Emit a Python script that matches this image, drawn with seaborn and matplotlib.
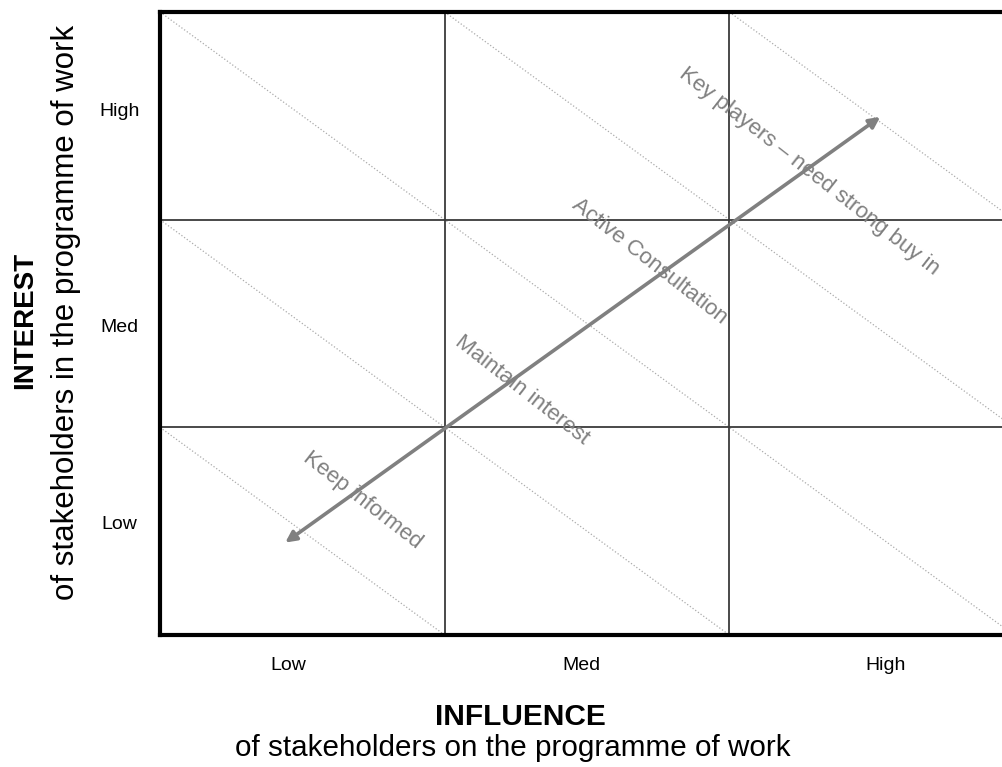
import numpy as np
import pandas as pd
import matplotlib
matplotlib.use("Agg")
import matplotlib.pyplot as plt
import seaborn as sns

# ── data ─────────────────────────────────────────
levels       = ["Low", "Med", "High"]
x_tick_pos   = [0.45, 1.48, 2.55]
y_tick_pos   = [0.54, 1.49, 2.53]
grid_breaks  = [1, 2]
diag_offsets = [1, 2, 3, 4, 5]          # dotted lines y = -x + k
zone_labels  = ["Keep informed", "Maintain interest",
                "Active Consultation", "Key players \u2013 need strong buy in"]
zone_x       = [0.71, 1.27, 1.72, 2.28]
zone_y       = [0.65, 1.18, 1.80, 2.23]
arrow_start  = (0.44, 0.445)
arrow_end    = (2.53, 2.495)

# ── style ────────────────────────────────────────
sns.set_theme(style="white")
plt.rcParams["font.family"] = ["Liberation Sans", "DejaVu Sans"]
plt.rcParams["text.color"] = "black"
GREY = "#808080"

fig = plt.figure(figsize=(10.02, 7.67), dpi=100)
ax = fig.add_axes([160 / 1002, 1 - 635 / 767, 854 / 1002, 623 / 767])
ax.set_xlim(0, 3)
ax.set_ylim(0, 3)

# dotted diagonals
rows = []
for k in diag_offsets:
    x0, x1 = max(0, k - 3), min(3, k)
    rows.append({"k": k, "x": x0, "y": k - x0})
    rows.append({"k": k, "x": x1, "y": k - x1})
diag = pd.DataFrame(rows)
sns.lineplot(data=diag, x="x", y="y", units="k", estimator=None,
             color="#ababab", linewidth=0.9, linestyle=":", ax=ax, zorder=1)

# 3x3 grid
for b in grid_breaks:
    ax.axvline(b, color="#3a3a3a", linewidth=1.3, zorder=2)
    ax.axhline(b, color="#3a3a3a", linewidth=1.3, zorder=2)

# double-headed arrow
ax.annotate("", xy=arrow_end, xytext=arrow_start,
            arrowprops=dict(arrowstyle="<|-|>", color=GREY, lw=2.6,
                            mutation_scale=16, shrinkA=0, shrinkB=0),
            zorder=3)

# zone labels
for lab, x, y in zip(zone_labels, zone_x, zone_y):
    ax.text(x, y, lab, rotation=-38, rotation_mode="anchor",
            ha="center", va="center", color=GREY, fontsize=16, zorder=4)

# spines
for side in ["left", "bottom", "top"]:
    ax.spines[side].set_visible(True)
    ax.spines[side].set_color("black")
    ax.spines[side].set_linewidth(3)
ax.spines["right"].set_visible(False)

# ticks
ax.set_xticks(x_tick_pos)
ax.set_xticklabels(levels, fontsize=14, color="black")
ax.set_yticks(y_tick_pos)
ax.set_yticklabels(levels, fontsize=14, color="black")
ax.tick_params(axis="x", length=0, pad=16)
ax.tick_params(axis="y", length=0, pad=29)
for t in ax.get_yticklabels():
    t.set_horizontalalignment("center")
ax.set_xlabel("")
ax.set_ylabel("")

# axis titles
fig.text(520 / 1002, 1 - 717 / 767, "INFLUENCE", ha="center", va="center",
         fontsize=21.5, fontweight="bold", color="black")
fig.text(513 / 1002, 1 - 748 / 767, "of stakeholders on the programme of work",
         ha="center", va="center", fontsize=21.3, color="black")
fig.text(25 / 1002, 1 - 320 / 767, "INTEREST", ha="center", va="center",
         rotation=90, fontsize=20, fontweight="bold", color="black")
fig.text(66 / 1002, 1 - 312 / 767, "of stakeholders in the programme of work",
         ha="center", va="center", rotation=90, fontsize=22.5, color="black")

plt.savefig("out.png", dpi=100)
plt.close()
